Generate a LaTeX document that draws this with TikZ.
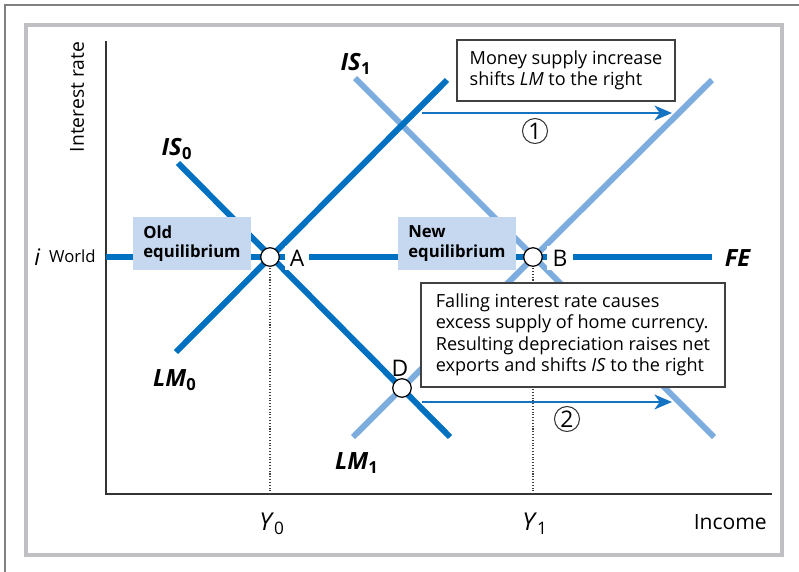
\documentclass[tikz,border=0pt]{standalone}
\usepackage{fontspec}
\setmainfont{Open Sans}
\usetikzlibrary{arrows.meta}

\definecolor{curvedark}{RGB}{0,112,192}
\definecolor{curvelight}{RGB}{125,172,222}
\definecolor{boxblue}{RGB}{198,216,239}
\definecolor{shiftblue}{RGB}{20,115,195}
\definecolor{framegray}{RGB}{192,192,196}

\tikzset{
  oldcurve/.style={curvedark, line width=3.4pt},
  newcurve/.style={curvelight, line width=3.4pt},
  axis/.style={black!80, line width=0.8pt},
  guide/.style={black!75, densely dotted, line width=0.6pt},
  eqpoint/.style={circle, draw=black, fill=white, line width=0.7pt, minimum size=0.37cm, inner sep=0pt},
  ptlabel/.style={fill=white, inner xsep=3pt, inner ysep=2pt, font=\fontsize{13}{13}\selectfont},
  curvelabel/.style={font=\bfseries\fontsize{13.5}{13.5}\selectfont},
  eqbox/.style={fill=boxblue, align=left, inner xsep=0.2cm, minimum height=1.06cm, font=\bfseries\fontsize{9.5}{11}\selectfont},
  notebox/.style={draw=black!75, fill=white, line width=0.8pt, align=left, font=\fontsize{10.3}{12.2}\selectfont},
  shiftarrow/.style={shiftblue, line width=1.2pt, -{Stealth[length=10pt,width=8.5pt,inset=3pt]}},
  numcircle/.style={circle, draw=black!80, line width=0.6pt, minimum size=0.5cm, inner sep=0pt, font=\fontsize{13}{13}\selectfont},
}

\begin{document}
\begin{tikzpicture}[x=0.02cm, y=-0.02cm]
\useasboundingbox (0,0) rectangle (799,572);
% page corner and grey frame
\draw[gray, line width=0.8pt] (5,572) -- (5,5) -- (799,5);
\draw[framegray, line width=2.6pt] (26,25) rectangle (782,555);

% axes
\coordinate (O) at (106,494);
\coordinate (ytop) at (106,41);
\coordinate (xend) at (772,494);
\draw[axis] (ytop) -- (O) -- (xend);
\node[rotate=90, font=\fontsize{11}{12}\selectfont] (ylab) at (77,97) {Interest rate};
\node[anchor=east, font=\fontsize{12}{12}\selectfont] (xlab) at (773,522) {Income};
\node[anchor=east, inner sep=0pt] (iworld) at (96,257)
  {\fontsize{13}{13}\selectfont\textit{i}\hspace{5pt}\raisebox{1.5pt}{\fontsize{9.5}{10}\selectfont World}};

% equilibria
\coordinate (A) at (270,257);
\coordinate (B) at (533,257);
\coordinate (D) at (402,388);

% curve end points
\coordinate (is0a) at (178,163); \coordinate (is0b) at (450,437);
\coordinate (lm0a) at (176,352); \coordinate (lm0b) at (447,80);
\coordinate (is1a) at (355,78);  \coordinate (is1b) at (714,437);
\coordinate (lm1a) at (353,437); \coordinate (lm1b) at (712,80);
\coordinate (fe) at (712,257);

\draw[newcurve] (is1a) -- (is1b);
\draw[newcurve] (lm1a) -- (lm1b);
\draw[oldcurve] (O |- A) -- (fe);
\draw[oldcurve] (is0a) -- (is0b);
\draw[oldcurve] (lm0a) -- (lm0b);

\draw[guide] (A) -- (A |- O);
\draw[guide] (B) -- (B |- O);
\node[font=\fontsize{14}{14}\selectfont] (y0) at (272,524) {\textit{Y}\textsubscript{0}};
\node[font=\fontsize{14}{14}\selectfont] (y1) at (535,524) {\textit{Y}\textsubscript{1}};

% curve names
\node[curvelabel] (is0lab) at (177,149) {\textit{IS}\textsubscript{0}};
\node[curvelabel] (is1lab) at (356,64) {\textit{IS}\textsubscript{1}};
\node[curvelabel] (lm0lab) at (175,380) {\textit{LM}\textsubscript{0}};
\node[curvelabel] (lm1lab) at (357,463) {\textit{LM}\textsubscript{1}};
\node[curvelabel] (felab) at (738,258) {\textit{FE}};

% shifts
\coordinate (s1a) at (422,113); \coordinate (s1b) at (672,113);
\coordinate (s2a) at (422,402); \coordinate (s2b) at (672,402);
\draw[shiftarrow] (s1a) -- (s1b);
\draw[shiftarrow] (s2a) -- (s2b);
\node[numcircle] (n1) at (535,131) {1};
\node[numcircle] (n2) at (567,419) {2};

% text boxes
\node[eqbox, minimum width=2.28cm] (oldeq) at (192,243.5) {Old\\equilibrium};
\node[eqbox, minimum width=2.32cm] (neweq) at (457,243.5) {New\\equilibrium};
\node[notebox, minimum width=4.36cm, minimum height=1.22cm] (money) at (566,70.5)
  {Money supply increase\\shifts \textit{LM} to the right};
\node[notebox, minimum width=6.08cm, minimum height=2.08cm] (falling) at (573,335)
  {Falling interest rate causes\\excess supply of home currency.\\Resulting depreciation raises net\\exports and shifts \textit{IS} to the right};

% points
\node[eqpoint] (ptA) at (A) {};
\node[eqpoint] (ptB) at (B) {};
\node[eqpoint] (ptD) at (D) {};
\node[ptlabel] (labA) at (297,258) {A};
\node[ptlabel] (labB) at (560,258) {B};
\node[font=\fontsize{13}{13}\selectfont] (labD) at (400,368) {D};
\end{tikzpicture}
\end{document}
